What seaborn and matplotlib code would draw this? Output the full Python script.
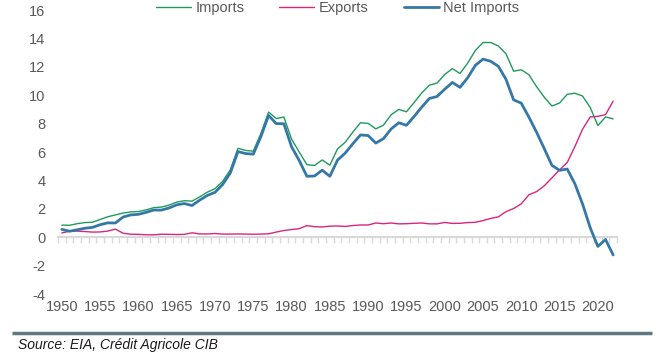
import numpy as np
import pandas as pd
import matplotlib
matplotlib.use("Agg")
import matplotlib.pyplot as plt
import seaborn as sns

years = list(range(1950, 2023))

# million barrels per day
imports = [0.85, 0.84, 0.95, 1.03, 1.05, 1.25, 1.44, 1.57, 1.70, 1.78,
           1.81, 1.92, 2.08, 2.12, 2.26, 2.47, 2.57, 2.54, 2.84, 3.17,
           3.42, 3.93, 4.74, 6.26, 6.11, 6.06, 7.31, 8.81, 8.36, 8.46,
           6.91, 6.00, 5.11, 5.05, 5.44, 5.07, 6.22, 6.68, 7.40, 8.06,
           8.02, 7.63, 7.89, 8.62, 9.00, 8.83, 9.48, 10.16, 10.71, 10.85,
           11.46, 11.87, 11.53, 12.26, 13.15, 13.71, 13.71, 13.47, 12.92, 11.69,
           11.79, 11.44, 10.60, 9.86, 9.24, 9.45, 10.06, 10.14, 9.94, 9.14,
           7.86, 8.47, 8.33]
exports = [0.30, 0.42, 0.43, 0.40, 0.36, 0.37, 0.43, 0.57, 0.28, 0.21,
           0.20, 0.17, 0.17, 0.21, 0.20, 0.19, 0.20, 0.31, 0.23, 0.23,
           0.26, 0.22, 0.22, 0.23, 0.22, 0.21, 0.22, 0.24, 0.36, 0.47,
           0.54, 0.60, 0.82, 0.74, 0.72, 0.78, 0.79, 0.76, 0.82, 0.86,
           0.86, 1.00, 0.95, 1.00, 0.94, 0.95, 0.98, 1.00, 0.94, 0.94,
           1.04, 0.97, 0.98, 1.03, 1.05, 1.17, 1.32, 1.43, 1.80, 2.02,
           2.35, 2.99, 3.21, 3.62, 4.18, 4.74, 5.26, 6.38, 7.60, 8.47,
           8.51, 8.63, 9.58]
net_imports = [0.55, 0.42, 0.52, 0.63, 0.69, 0.88, 1.01, 1.00, 1.42, 1.57,
               1.61, 1.75, 1.91, 1.91, 2.06, 2.28, 2.37, 2.23, 2.61, 2.94,
               3.16, 3.71, 4.52, 6.03, 5.89, 5.85, 7.09, 8.57, 8.00, 7.99,
               6.37, 5.40, 4.29, 4.31, 4.72, 4.29, 5.43, 5.92, 6.58, 7.20,
               7.16, 6.63, 6.94, 7.62, 8.06, 7.88, 8.50, 9.16, 9.77, 9.91,
               10.42, 10.90, 10.55, 11.23, 12.10, 12.54, 12.39, 12.04, 11.12, 9.67,
               9.44, 8.45, 7.39, 6.24, 5.06, 4.71, 4.80, 3.76, 2.34, 0.67,
               -0.65, -0.16, -1.25]

df = pd.DataFrame({"Year": years * 3,
                   "Value": imports + exports + net_imports,
                   "Series": ["Imports"] * len(years) + ["Exports"] * len(years)
                             + ["Net Imports"] * len(years)})

sns.set_style("white")
plt.rcParams["font.family"] = ["Liberation Sans", "DejaVu Sans"]
plt.rcParams["axes.unicode_minus"] = False
grey = "#595959"

fig = plt.figure(figsize=(6.66, 3.55), dpi=100)
ax = fig.add_axes([58 / 666, 1 - 294 / 355, (617 - 58) / 666, (294 - 10) / 355])

sns.lineplot(data=df, x="Year", y="Value", hue="Series", size="Series",
             palette={"Imports": "#1f9a5c", "Exports": "#d9257f", "Net Imports": "#3578a8"},
             sizes={"Imports": 1.0, "Exports": 1.0, "Net Imports": 2.0},
             ax=ax)

ax.set_xlim(1949.5, 2022.5)
ax.set_ylim(-4, 16)
ax.set_yticks(range(-4, 17, 2))
ax.set_xticks(range(1950, 2021, 5))
ax.set_xlabel("")
ax.set_ylabel("")
for s in ax.spines.values():
    s.set_visible(False)
ax.tick_params(axis="both", length=0, labelsize=10.5, colors=grey, pad=4)
ax.tick_params(axis="y", pad=9)

# zero axis with year ticks
sec = ax.secondary_xaxis(4 / 20)
sec.spines["bottom"].set_color("#d9d9d9")
sec.spines["bottom"].set_linewidth(1.5)
sec.set_xticks(np.arange(1949.5, 2023, 1))
sec.tick_params(length=4, width=1, color="#d9d9d9", labelbottom=False)

handles, labels = ax.get_legend_handles_labels()
ax.legend(handles, labels, loc="center", bbox_to_anchor=(0.5, 1 + 2 / 284), ncol=3,
          frameon=False, fontsize=10.5, handlelength=2.4, handletextpad=0.3,
          columnspacing=2.4, labelcolor=grey, borderaxespad=0)

fig.add_artist(plt.Line2D([12 / 666, 652 / 666], [1 - 333 / 355] * 2,
                          color="#5f7880", lw=2.5, solid_capstyle="butt",
                          transform=fig.transFigure))
fig.text(18 / 666, 1 - 345 / 355, "Source: EIA, Crédit Agricole CIB", style="italic",
         fontsize=10, color="#1a1a1a", va="center", ha="left")

fig.savefig("out.png", dpi=100)
